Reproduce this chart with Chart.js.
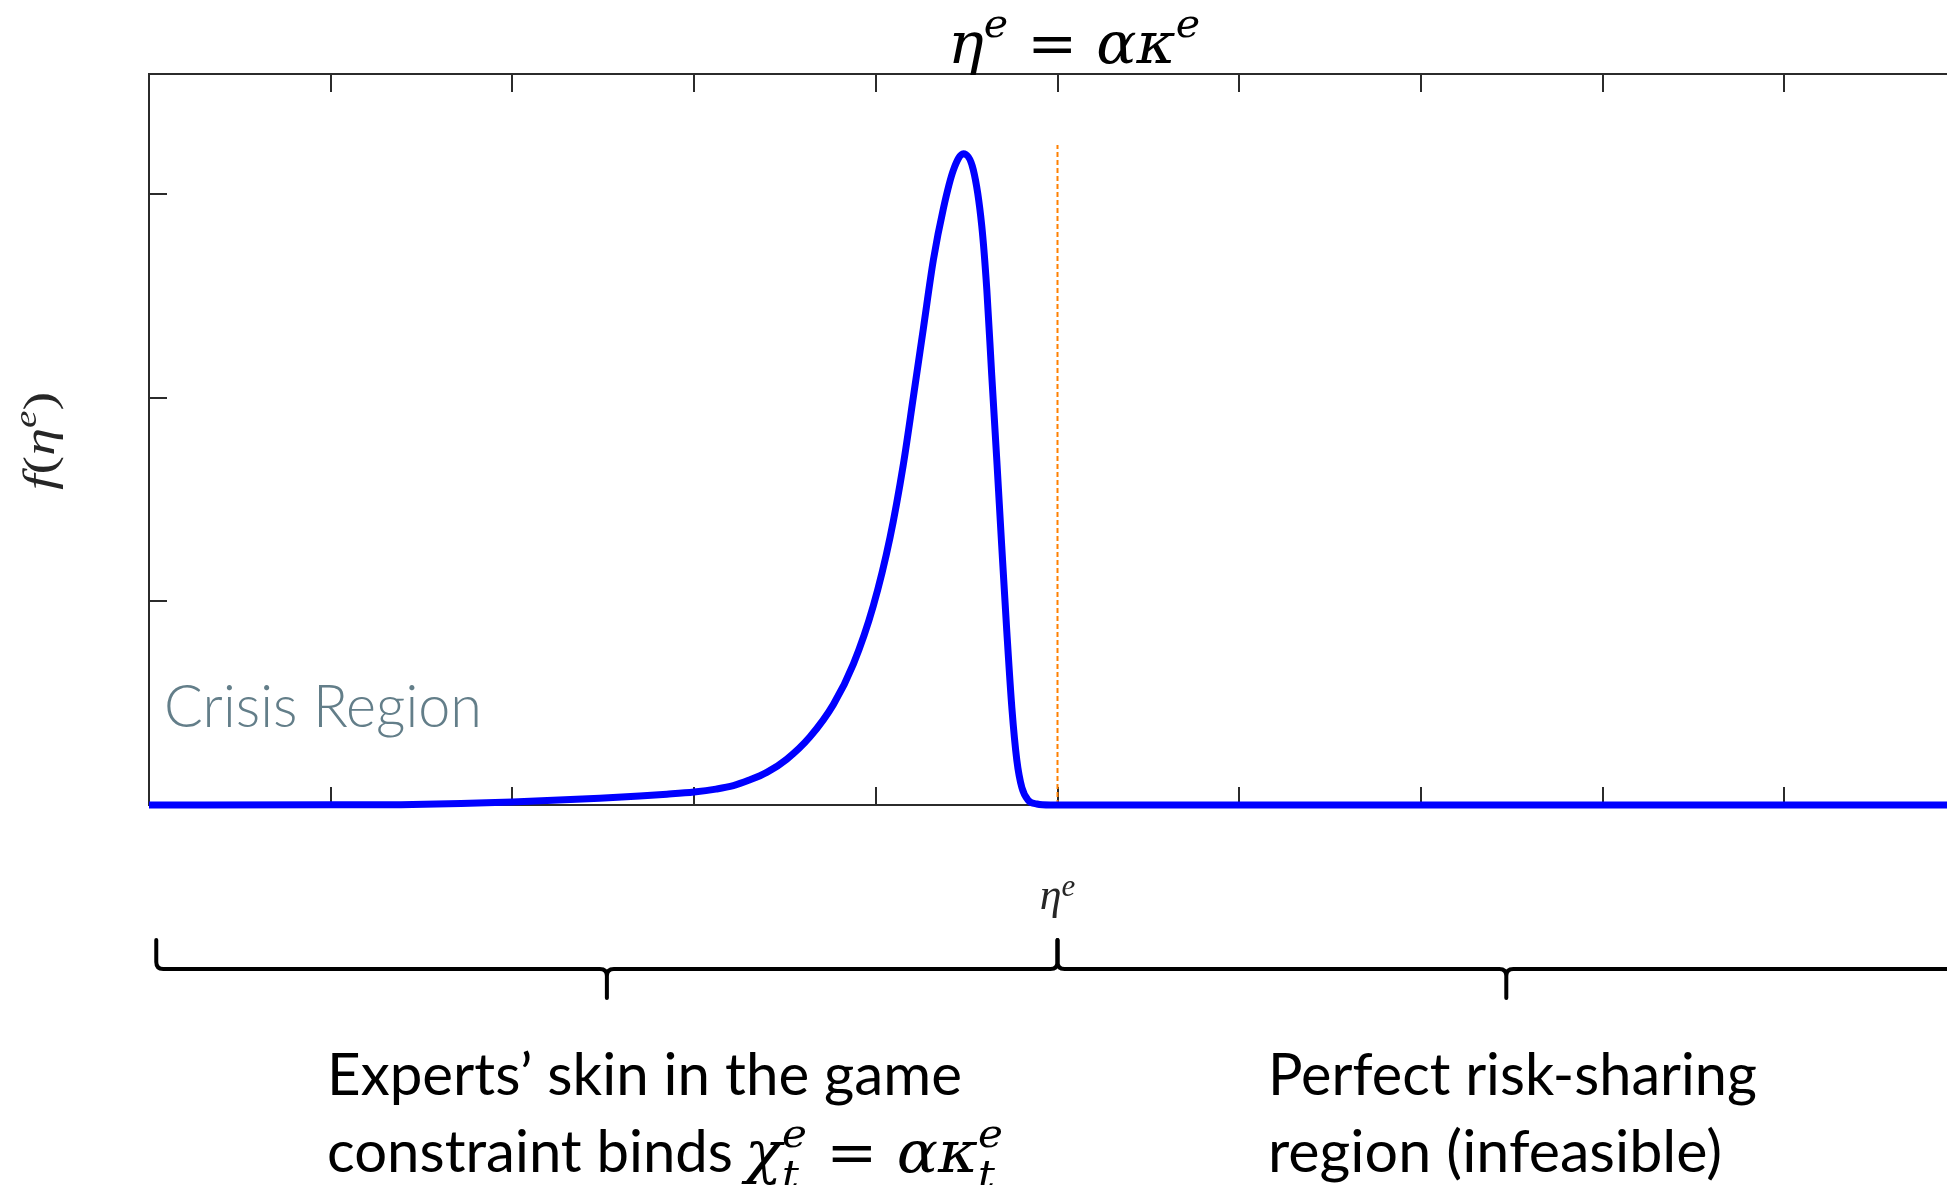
<!DOCTYPE html>
<html>
<head>
<meta charset="utf-8">
<script src="https://cdn.jsdelivr.net/npm/chart.js@4.4.1/dist/chart.umd.min.js"></script>
<style>
  html, body { margin: 0; padding: 0; background: #ffffff; overflow: hidden; }
  #wrap { position: absolute; left: 0; top: 0; width: 2000px; height: 1185px; }
</style>
</head>
<body>
<div id="wrap"><canvas id="density" width="2000" height="1185"></canvas></div>
<script>
// Experts' wealth share grid and the stationary density f(eta^e)
const etaValues = [
  0.0000, 0.1000, 0.1450, 0.2000, 0.2480, 0.2700, 0.2850, 0.3000, 0.3120,
  0.3216, 0.3300, 0.3400, 0.3510, 0.3638, 0.3767, 0.3877, 0.3986, 0.4078,
  0.4151, 0.4207, 0.4262, 0.4317, 0.4372, 0.4427, 0.4482, 0.4537, 0.4583,
  0.4611, 0.4638, 0.4666, 0.4693, 0.4721, 0.4749, 0.4776, 0.4804, 0.4840,
  0.4887, 0.4960, 1.0000
];
const densityValues = [
  0.000, 0.001, 0.003, 0.015, 0.033, 0.044, 0.053, 0.064, 0.078,
  0.095, 0.121, 0.160, 0.225, 0.335, 0.494, 0.693, 0.977, 1.312,
  1.669, 2.005, 2.341, 2.677, 2.929, 3.117, 3.197, 3.117, 2.845,
  2.530, 2.111, 1.692, 1.272, 0.852, 0.475, 0.221, 0.085, 0.022,
  0.005, 0.000, 0.000
];

// threshold eta^e = alpha * kappa^e (dashed vertical line)
const thresholdEta = [0.5, 0.5];
const thresholdLevel = [0, 3.24];

// tick positions (tick labels are not shown)
const etaTicks = [0, 0.1, 0.2, 0.3, 0.4, 0.5, 0.6, 0.7, 0.8, 0.9, 1.0];
const densityTicks = [0, 1, 2, 3];

const AXIS_COLOR = '#2b2b2b';
const TEXT_FONT = 'Lato, "Open Sans", "Noto Sans", sans-serif';
const MATH_FONT = '"DejaVu Serif", "Liberation Serif", serif';
const TEX_FONT = '"Liberation Serif", "DejaVu Serif", serif';

// ---- helpers for rich text (sub/superscripts) ----
function runWidth(ctx, r) {
  ctx.font = r.font;
  if (r.stack) return Math.max(...r.stack.map(s => ctx.measureText(s.text).width));
  return ctx.measureText(r.text).width;
}

function drawRich(ctx, runs, x, y, opts) {
  const widths = runs.map(r => runWidth(ctx, r));
  const total = widths.reduce((a, b) => a + b, 0);
  const sx = opts.width ? opts.width / total : 1;
  ctx.save();
  ctx.translate(x, y);
  if (opts.rotate) ctx.rotate(opts.rotate);
  ctx.scale(sx, 1);
  ctx.fillStyle = opts.color || '#000';
  ctx.textAlign = 'left';
  ctx.textBaseline = 'alphabetic';
  let cx = opts.align === 'center' ? -total / 2 : 0;
  runs.forEach((r, i) => {
    ctx.font = r.font;
    if (r.stack) {
      r.stack.forEach(s => ctx.fillText(s.text, cx, s.dy));
    } else {
      ctx.fillText(r.text, cx, r.dy || 0);
    }
    cx += widths[i];
  });
  ctx.restore();
}

function drawBrace(ctx, xa, xb, y, up, down, r) {
  const xm = (xa + xb) / 2;
  ctx.beginPath();
  ctx.moveTo(xa, y - up);
  ctx.lineTo(xa, y - r);
  ctx.quadraticCurveTo(xa, y, xa + r, y);
  ctx.lineTo(xm - r, y);
  ctx.quadraticCurveTo(xm, y, xm, y + r);
  ctx.lineTo(xm, y + down);
  ctx.moveTo(xm, y + r);
  ctx.quadraticCurveTo(xm, y, xm + r, y);
  ctx.lineTo(xb - r, y);
  ctx.quadraticCurveTo(xb, y, xb, y - r);
  ctx.lineTo(xb, y - up);
  ctx.stroke();
}

// ---- axes box with inward ticks on all four sides ----
const boxAxes = {
  id: 'boxAxes',
  beforeDatasetsDraw(chart) {
    const { ctx, chartArea: a, scales } = chart;
    const tl = 18;
    ctx.save();
    ctx.strokeStyle = AXIS_COLOR;
    ctx.lineWidth = 2;
    ctx.strokeRect(a.left, a.top, a.right - a.left, a.bottom - a.top);
    ctx.beginPath();
    scales.x.ticks.forEach(t => {
      const px = Math.round(scales.x.getPixelForValue(t.value));
      ctx.moveTo(px, a.bottom); ctx.lineTo(px, a.bottom - tl);
      ctx.moveTo(px, a.top); ctx.lineTo(px, a.top + tl);
    });
    scales.y.ticks.forEach(t => {
      const py = Math.round(scales.y.getPixelForValue(t.value));
      ctx.moveTo(a.left, py); ctx.lineTo(a.left + tl, py);
      ctx.moveTo(a.right, py); ctx.lineTo(a.right - tl, py);
    });
    ctx.stroke();
    ctx.restore();
  }
};

// ---- titles, labels, region braces and captions ----
const annotations = {
  id: 'annotations',
  afterDraw(chart) {
    const { ctx, scales } = chart;
    const xs = scales.x;

    // title: eta^e = alpha kappa^e
    const mi = 'italic 58px ' + MATH_FONT;
    const mu = '58px ' + MATH_FONT;
    const ms = 'italic 40px ' + MATH_FONT;
    drawRich(ctx, [
      { text: 'η', font: mi },
      { text: 'e', font: ms, dy: -26 },
      { text: ' = ', font: mu },
      { text: 'ακ', font: mi },
      { text: 'e', font: ms, dy: -26 }
    ], 948, 63, { width: 252, color: '#000' });

    // y-axis label f(eta^e)
    const ti = 'italic 44px ' + TEX_FONT;
    const tu = '44px ' + TEX_FONT;
    const ts = 'italic 31px ' + TEX_FONT;
    drawRich(ctx, [
      { text: 'f', font: ti },
      { text: '(', font: tu },
      { text: 'η', font: ti },
      { text: 'e', font: ts, dy: -18 },
      { text: ')', font: tu }
    ], 54, 441, { rotate: -Math.PI / 2, align: 'center', width: 98, color: '#262626' });

    // x label eta^e under the threshold
    drawRich(ctx, [
      { text: 'η', font: ti },
      { text: 'e', font: ts, dy: -13 }
    ], xs.getPixelForValue(0.5), 909, { align: 'center', color: '#262626' });

    // crisis region caption
    drawRich(ctx, [{ text: 'Crisis Region', font: '300 59px ' + TEXT_FONT }],
      164, 727, { width: 318, color: '#637E89' });

    // braces under the axis
    ctx.save();
    ctx.strokeStyle = '#000';
    ctx.lineWidth = 4;
    ctx.lineCap = 'round';
    ctx.lineJoin = 'round';
    drawBrace(ctx, xs.getPixelForValue(0.004), xs.getPixelForValue(0.5), 969, 29, 29, 7);
    drawBrace(ctx, xs.getPixelForValue(0.5), xs.getPixelForValue(0.994), 969, 29, 29, 7);
    ctx.restore();

    // captions under the braces
    const tf = '59px ' + TEXT_FONT;
    drawRich(ctx, [{ text: 'Experts’ skin in the game', font: tf }], 327, 1095, { width: 635, color: '#000' });
    drawRich(ctx, [{ text: 'constraint binds', font: tf }], 327, 1172, { width: 406, color: '#000' });
    const bi = 'italic 58px ' + MATH_FONT;
    const bu = '58px ' + MATH_FONT;
    const bs = 'italic 40px ' + MATH_FONT;
    drawRich(ctx, [
      { text: 'χ', font: bi },
      { font: bs, stack: [{ text: 'e', dy: -25 }, { text: 't', dy: 16 }] },
      { text: ' = ', font: bu },
      { text: 'ακ', font: bi },
      { font: bs, stack: [{ text: 'e', dy: -25 }, { text: 't', dy: 16 }] }
    ], 745, 1172, { width: 258, color: '#000' });

    drawRich(ctx, [{ text: 'Perfect risk-sharing', font: tf }], 1268, 1095, { width: 489, color: '#000' });
    drawRich(ctx, [{ text: 'region (infeasible)', font: tf }], 1268, 1172, { width: 454, color: '#000' });
  }
};

const canvas = document.getElementById('density');
new Chart(canvas.getContext('2d'), {
  type: 'line',
  data: {
    datasets: [
      {
        label: 'density',
        data: etaValues.map((x, i) => ({ x, y: densityValues[i] })),
        borderColor: '#0000FF',
        borderWidth: 7,
        pointRadius: 0,
        fill: false,
        cubicInterpolationMode: 'monotone',
        borderJoinStyle: 'round',
        clip: false,
        order: 1
      },
      {
        label: 'threshold',
        data: thresholdEta.map((x, i) => ({ x, y: thresholdLevel[i] })),
        borderColor: '#FF8000',
        borderWidth: 2,
        borderDash: [5, 3],
        pointRadius: 0,
        fill: false,
        clip: false,
        order: 2
      }
    ]
  },
  options: {
    responsive: false,
    animation: false,
    devicePixelRatio: 1,
    layout: { padding: { left: 149, top: 74, right: 34, bottom: 380 } },
    plugins: {
      legend: { display: false },
      tooltip: { enabled: false },
      title: { display: false }
    },
    scales: {
      x: {
        type: 'linear', min: 0, max: 1,
        afterBuildTicks: s => { s.ticks = etaTicks.map(v => ({ value: v })); },
        ticks: { display: false },
        grid: { display: false, drawTicks: false },
        border: { display: false }
      },
      y: {
        type: 'linear', min: 0, max: 3.589,
        afterBuildTicks: s => { s.ticks = densityTicks.map(v => ({ value: v })); },
        ticks: { display: false },
        grid: { display: false, drawTicks: false },
        border: { display: false }
      }
    }
  },
  plugins: [boxAxes, annotations]
});
</script>
</body>
</html>
